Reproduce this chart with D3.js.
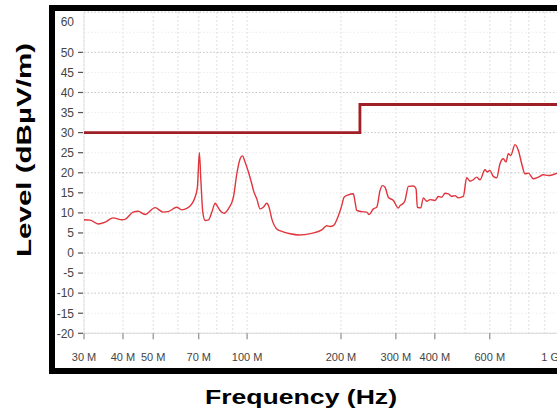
<!DOCTYPE html>
<html>
<head>
<meta charset="utf-8">
<script src="https://cdn.jsdelivr.net/npm/d3@7"></script>
<style>
  body { margin: 0; background: #fff; }
  svg { display: block; }
</style>
</head>
<body>
<div id="chart"></div>
<script>
// measured trace, frequency in MHz / level in dBµV/m
const freqMHz = [30.0, 31.4, 33.3, 35.1, 37.2, 39.7, 40.6, 43.1, 44.7, 47.1,
  50.7, 53.8, 55.8, 59.5, 61.7, 64.1, 66.5, 68.1, 69.3, 70.3,
  71.1, 72.1, 73.4, 75.2, 77.1, 79.0, 80.3, 81.9, 84.4, 87.1,
  90.4, 92.7, 95.0, 96.6, 98.5, 101.0, 103.5, 104.8, 107.4, 110.1,
  112.8, 115.6, 117.6, 120.0, 124.5, 129.2, 137.4, 146.0, 161.2, 173.6,
  180.1, 184.5, 189.1, 196.2, 201.1, 204.6, 211.2, 219.1, 221.9, 224.7,
  233.1, 241.9, 246.0, 254.0, 260.4, 266.9, 271.5, 276.9, 283.7, 294.4,
  305.4, 309.3, 317.0, 320.9, 328.9, 341.2, 348.1, 351.4, 360.3, 367.4,
  376.7, 385.9, 400.5, 410.3, 420.7, 431.1, 441.8, 453.0, 464.2, 475.6,
  493.4, 506.0, 518.4, 531.2, 544.7, 558.1, 579.1, 589.0, 600.8, 615.6,
  631.3, 646.9, 662.8, 676.1, 687.7, 700.0, 722.8, 740.6, 759.3, 778.0,
  797.3, 827.2, 858.4, 890.7, 924.3, 985.4]
const levelDb = [8.3, 8.2, 7.25, 7.7, 8.75, 8.3, 8.4, 10.2, 10.4, 9.6,
  11.3, 10.2, 10.3, 11.4, 10.75, 11.1, 12.25, 13.9, 16.4, 25.0,
  18.1, 10.2, 8.1, 8.25, 10.2, 12.4, 11.6, 10.6, 9.9, 11.0,
  13.9, 19.75, 23.5, 24.2, 22.7, 20.2, 17.25, 15.6, 13.5, 11.0,
  11.4, 12.4, 11.4, 8.5, 6.0, 5.4, 4.8, 4.5, 4.9, 5.75,
  6.8, 6.6, 6.8, 9.3, 11.8, 13.9, 14.5, 14.75, 12.7, 10.6,
  10.3, 10.2, 9.6, 11.0, 11.4, 15.6, 16.8, 16.4, 13.9, 13.1,
  11.2, 11.8, 12.4, 13.1, 16.6, 16.7, 16.0, 11.4, 11.25, 13.75,
  12.9, 13.3, 13.1, 14.1, 13.9, 14.9, 14.75, 14.1, 14.3, 13.75,
  14.1, 18.75, 17.9, 18.25, 18.9, 18.25, 20.75, 20.2, 20.6, 19.1,
  18.75, 22.25, 23.5, 22.7, 24.75, 24.3, 27.0, 25.6, 22.25, 19.75,
  19.9, 18.5, 18.9, 19.5, 19.3, 19.9]

// limit line (step at 230 MHz)
const limitFreq = [30, 230, 230, 1000]
const limitDb = [30, 30, 37, 37]

const yTicks = [-20, -15, -10, -5, 0, 5, 10, 15, 20, 25, 30, 35, 40, 45, 50]
const xTickValues = [30, 40, 50, 70, 100, 200, 300, 400, 600, 1000]
const xTickLabels = ["30 M", "40 M", "50 M", "70 M", "100 M", "200 M", "300 M", "400 M", "600 M", "1 G"]

const width = 557
const height = 414
const margin = {left: 84, top: 12.2, bottom: 333.3}

const svg = d3.select("#chart").append("svg")
    .attr("width", width)
    .attr("height", height)

const xScale = d3.scaleLog()
    .domain([30, 1000])
    .range([margin.left, 559])

const yScale = d3.scaleLinear()
    .domain([-20, 60])
    .range([margin.bottom, margin.top])

/* grid */
const grid = svg.append("g")
const minorFreqs = []
;[10, 100].forEach(dec => {
  for (let k = 1; k <= 9; k++) {
    const f = dec * k
    if (f >= 30 && f <= 1000) minorFreqs.push(f)
  }
})
grid.selectAll(".vgrid")
  .data(minorFreqs)
  .enter().append("line")
    .attr("x1", d => xScale(d))
    .attr("x2", d => xScale(d))
    .attr("y1", yScale(60))
    .attr("y2", yScale(-20))
    .attr("stroke", "#d4d4d4")
    .attr("stroke-dasharray", "1.5 2.5")

const hLevels = d3.range(-20, 61, 5)
grid.selectAll(".hgrid")
  .data(hLevels)
  .enter().append("line")
    .attr("x1", margin.left)
    .attr("x2", width)
    .attr("y1", d => yScale(d))
    .attr("y2", d => yScale(d))
    .attr("stroke", d => d % 10 === 0 ? "#c4c4c4" : "#ececec")
    .attr("stroke-dasharray", "1.5 2")

// axis lines
svg.append("line")
    .attr("x1", margin.left).attr("x2", width)
    .attr("y1", yScale(-20)).attr("y2", yScale(-20))
    .attr("stroke", "#dcdcdc")
svg.append("line")
    .attr("x1", margin.left).attr("x2", margin.left)
    .attr("y1", yScale(60)).attr("y2", yScale(-20))
    .attr("stroke", "#e4e4e4")

/* y axis */
const yAxis = svg.append("g")
yAxis.selectAll(".ytick")
  .data(yTicks)
  .enter().append("line")
    .attr("x1", 78).attr("x2", 83)
    .attr("y1", d => yScale(d)).attr("y2", d => yScale(d))
    .attr("stroke", "#555")
    .attr("stroke-width", 1.2)
yAxis.selectAll(".ylabel")
  .data(yTicks.concat([60]))
  .enter().append("text")
    .attr("x", 74)
    .attr("y", d => d === 60 ? yScale(d) + 9.5 : yScale(d))
    .attr("dy", "0.36em")
    .attr("text-anchor", "end")
    .attr("fill", "#444")
    .style("font-family", "Liberation Sans, Arial, sans-serif")
    .style("font-size", "12px")
    .text(d => d)

/* x axis */
const xAxis = svg.append("g")
xAxis.selectAll(".xtick")
  .data(xTickValues)
  .enter().append("line")
    .attr("x1", d => xScale(d)).attr("x2", d => xScale(d))
    .attr("y1", yScale(-20)).attr("y2", yScale(-20) + 6)
    .attr("stroke", "#777")
// last label sits at the clipped right edge, so it's right-anchored on its tick
xAxis.selectAll(".xlabel")
  .data(xTickValues)
  .enter().append("text")
    .attr("x", d => xScale(d))
    .attr("y", 361)
    .attr("text-anchor", d => d === 1000 ? "end" : "middle")
    .attr("fill", "#444")
    .style("font-family", "Liberation Sans, Arial, sans-serif")
    .style("font-size", "11px")
    .text((d, i) => xTickLabels[i])

/* limit */
const limitLine = d3.line()
    .x((d, i) => xScale(limitFreq[i]))
    .y((d, i) => yScale(limitDb[i]))
svg.append("path")
    .attr("d", limitLine(limitFreq))
    .attr("fill", "none")
    .attr("stroke", "#a01e25")
    .attr("stroke-width", 2.8)

/* trace */
const traceLine = d3.line()
    .x((d, i) => xScale(freqMHz[i]))
    .y((d, i) => yScale(levelDb[i]))
    .curve(d3.curveMonotoneX)
svg.append("path")
    .attr("d", traceLine(freqMHz))
    .attr("fill", "none")
    .attr("stroke", "#e0353d")
    .attr("stroke-width", 1.4)

/* frame */
svg.append("rect")
    .attr("x", 52)
    .attr("y", 8)
    .attr("width", 620)
    .attr("height", 363)
    .attr("fill", "none")
    .attr("stroke", "#000")
    .attr("stroke-width", 6)

/* titles */
svg.append("text")
    .attr("transform", "translate(31,150) rotate(-90)")
    .attr("text-anchor", "middle")
    .attr("textLength", 214)
    .attr("lengthAdjust", "spacingAndGlyphs")
    .style("font-family", "Liberation Sans, Arial, sans-serif")
    .style("font-weight", "bold")
    .style("font-size", "21px")
    .text("Level (dBµV/m)")

svg.append("text")
    .attr("x", 301)
    .attr("y", 404)
    .attr("text-anchor", "middle")
    .attr("textLength", 192)
    .attr("lengthAdjust", "spacingAndGlyphs")
    .style("font-family", "Liberation Sans, Arial, sans-serif")
    .style("font-weight", "bold")
    .style("font-size", "21px")
    .text("Frequency (Hz)")
</script>
</body>
</html>
